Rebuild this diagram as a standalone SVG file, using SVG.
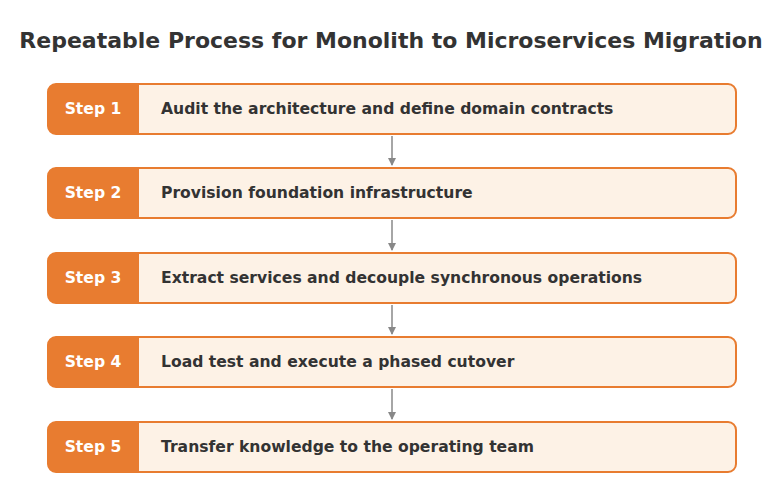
<svg xmlns="http://www.w3.org/2000/svg" width="779" height="477" viewBox="0 0 779 477">
<defs>
<style>
.t{font-family:"DejaVu Sans",sans-serif;font-weight:bold}
.title{font-size:22px;fill:#333}
.box{fill:#fdf2e6;stroke:#e87c30;stroke-width:2}
.tab{fill:#e87c30}
.s{font-size:15.6px;fill:#fff}
.l{font-size:15.6px;fill:#333}
.c{stroke:#888;stroke-width:1.5;fill:none}
</style>
<marker id="a" markerWidth="8" markerHeight="8" refX="7" refY="4" orient="auto" markerUnits="userSpaceOnUse"><path d="M0,0 L8,4 L0,8 Z" fill="#888"/></marker>
</defs>
<rect width="779" height="477" fill="#fff"/>
<text class="t title" x="391" y="48" text-anchor="middle">Repeatable Process for Monolith to Microservices Migration</text>
<g id="step1"><rect class="box" x="48" y="84" width="688" height="50" rx="8"/><path class="tab" d="M56,84 H139 V134 H56 A8,8 0 0 1 48,126 V92 A8,8 0 0 1 56,84 Z"/><text class="t s" x="93" y="114" text-anchor="middle">Step 1</text><text class="t l" x="161" y="114">Audit the architecture and define domain contracts</text></g>
<g id="step2"><rect class="box" x="48" y="168" width="688" height="50" rx="8"/><path class="tab" d="M56,168 H139 V218 H56 A8,8 0 0 1 48,210 V176 A8,8 0 0 1 56,168 Z"/><text class="t s" x="93" y="198" text-anchor="middle">Step 2</text><text class="t l" x="161" y="198">Provision foundation infrastructure</text></g>
<g id="step3"><rect class="box" x="48" y="253" width="688" height="50" rx="8"/><path class="tab" d="M56,253 H139 V303 H56 A8,8 0 0 1 48,295 V261 A8,8 0 0 1 56,253 Z"/><text class="t s" x="93" y="283" text-anchor="middle">Step 3</text><text class="t l" x="161" y="283">Extract services and decouple synchronous operations</text></g>
<g id="step4"><rect class="box" x="48" y="337" width="688" height="50" rx="8"/><path class="tab" d="M56,337 H139 V387 H56 A8,8 0 0 1 48,379 V345 A8,8 0 0 1 56,337 Z"/><text class="t s" x="93" y="367" text-anchor="middle">Step 4</text><text class="t l" x="161" y="367">Load test and execute a phased cutover</text></g>
<g id="step5"><rect class="box" x="48" y="422" width="688" height="50" rx="8"/><path class="tab" d="M56,422 H139 V472 H56 A8,8 0 0 1 48,464 V430 A8,8 0 0 1 56,422 Z"/><text class="t s" x="93" y="452" text-anchor="middle">Step 5</text><text class="t l" x="161" y="452">Transfer knowledge to the operating team</text></g>
<g id="connectors">
<line class="c" x1="392" y1="136" x2="392" y2="165" marker-end="url(#a)"/>
<line class="c" x1="392" y1="220" x2="392" y2="250" marker-end="url(#a)"/>
<line class="c" x1="392" y1="305" x2="392" y2="334" marker-end="url(#a)"/>
<line class="c" x1="392" y1="389" x2="392" y2="419" marker-end="url(#a)"/>
</g>
</svg>
